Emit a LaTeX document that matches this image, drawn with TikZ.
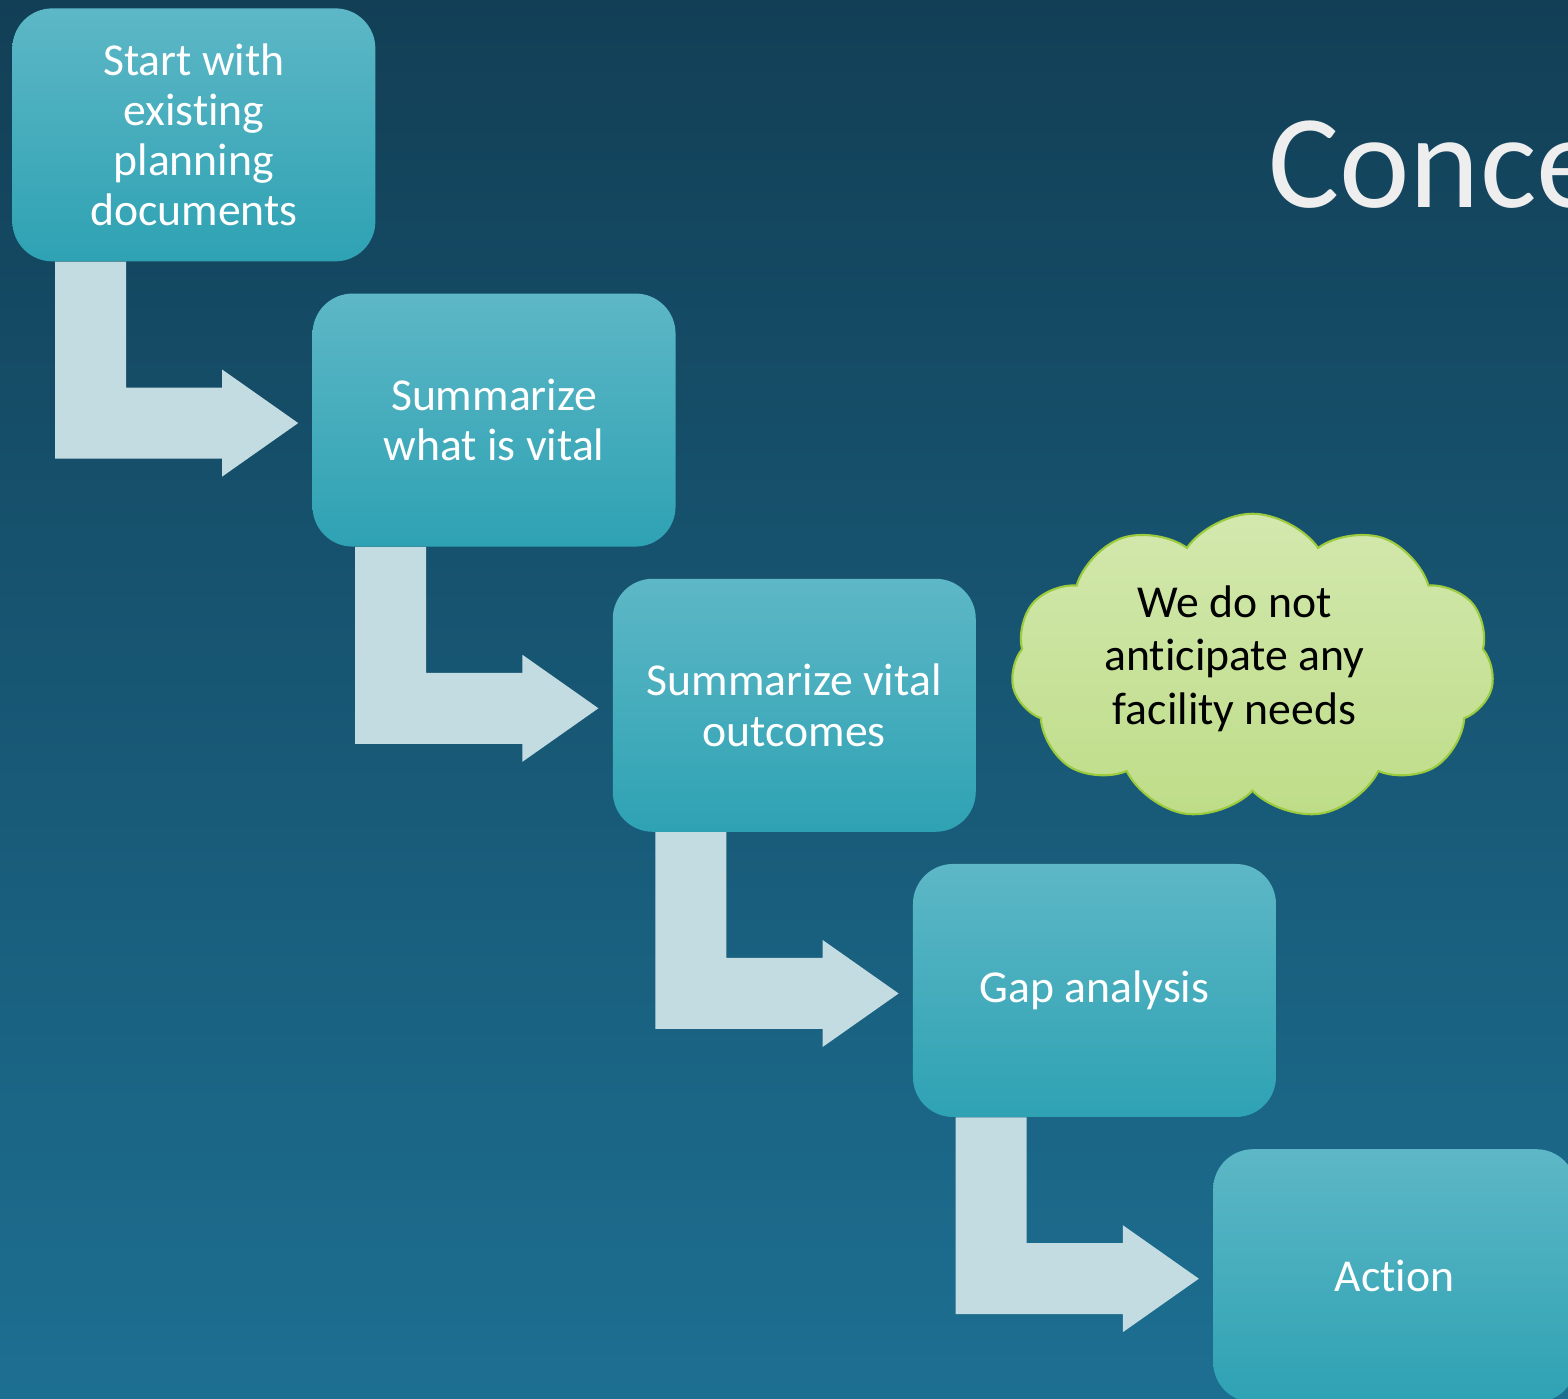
\documentclass[tikz,border=0pt]{standalone}
\usepackage{fontspec}
\setmainfont{Carlito}[Ligatures={TeX,NoCommon}]
\usetikzlibrary{arrows,shapes,positioning,calc}

\definecolor{bgtop}{HTML}{123F56}
\definecolor{bgbot}{HTML}{1D6F92}
\definecolor{boxtop}{HTML}{5DB7C6}
\definecolor{boxmid}{HTML}{3BB2C4}
\definecolor{boxbot}{HTML}{2EA2B3}
\definecolor{arrowfill}{HTML}{C3DCE2}
\definecolor{cloudtop}{HTML}{D3E8AE}
\definecolor{cloudbot}{HTML}{BEDD88}
\definecolor{cloudline}{HTML}{9DCB3E}
\definecolor{titlegray}{HTML}{EEEEEE}

\begin{document}
\begin{tikzpicture}[
		basic/.style    = {inner sep=0pt, align=center, font=\fontsize{26}{28.5}\selectfont},
		stepbox/.style  = {basic, rectangle, rounded corners=0.8cm, text=white, minimum width=7.26cm, minimum height=5.06cm, top color=boxtop, middle color=boxmid, bottom color=boxbot},
		nextbox/.style  = {stepbox, below right=0.63cm and -1.27cm of #1},
		cloudbox/.style = {basic, cloud, cloud puffs=11, cloud puff arc=110, cloud ignores aspect, draw=cloudline, line width=1.2pt, top color=cloudtop, bottom color=cloudbot, minimum width=9.66cm, minimum height=6.12cm},
		cloudtext/.style = {basic, text=black, font=\fontsize{26}{30.5}\selectfont},
		bentarrow/.style = {fill=arrowfill},
		title/.style    = {anchor=base west, inner sep=0pt, text=titlegray, font=\fontsize{76}{80}\selectfont}]
		
		% Frame and background
		\useasboundingbox (0,0) rectangle (31.36,-27.96);
		\clip (0,0) rectangle (31.36,-27.96);
		\shade[top color=bgtop, bottom color=bgbot] (0,0) rectangle (31.36,-27.96);
		
		% Title, cut by the right edge
		\node[title] (head) at (25.36,-4.14) {Conce};
		
		% The steps, each one below right of the one before
		\node[stepbox, anchor=north west] (s1) at (0.24,-0.16) {Start with\\existing\\planning\\documents};
		\node[nextbox=s1] (s2) {Summarize\\what is vital};
		\node[nextbox=s2] (s3) {Summarize vital\\outcomes};
		\node[nextbox=s3] (s4) {Gap analysis};
		\node[nextbox=s4] (s5) {Action};
		
		% Cloud next to the third step
		\node[cloudbox, right=0.72cm of s3, yshift=0.77cm] (c1) {};
		\node[cloudtext] (c1txt) at ($(c1.center)+(-0.36,0.16)$) {We do not\\anticipate any\\facility needs};
		
		% Bent arrows from each step down to the next one
		\foreach \i/\j in {1/2,2/3,3/4,4/5} {
			\coordinate (t\j) at ($(s\j.west)+(-0.28,-0.06)$);
			\coordinate (a\i) at ($(s\i.south west)+(0.86,0)$);
			\coordinate (b\i) at ($(s\i.south west)+(2.28,0)$);
			\fill[bentarrow] (a\i) -- (b\i) -- ($(b\i |- t\j)+(0,0.71)$)
				-- ($(t\j)+(-1.52,0.71)$) -- ($(t\j)+(-1.52,1.07)$) -- (t\j)
				-- ($(t\j)+(-1.52,-1.07)$) -- ($(t\j)+(-1.52,-0.71)$)
				-- ($(a\i |- t\j)+(0,-0.71)$) -- cycle;
		}
		
	\end{tikzpicture}
\end{document}
